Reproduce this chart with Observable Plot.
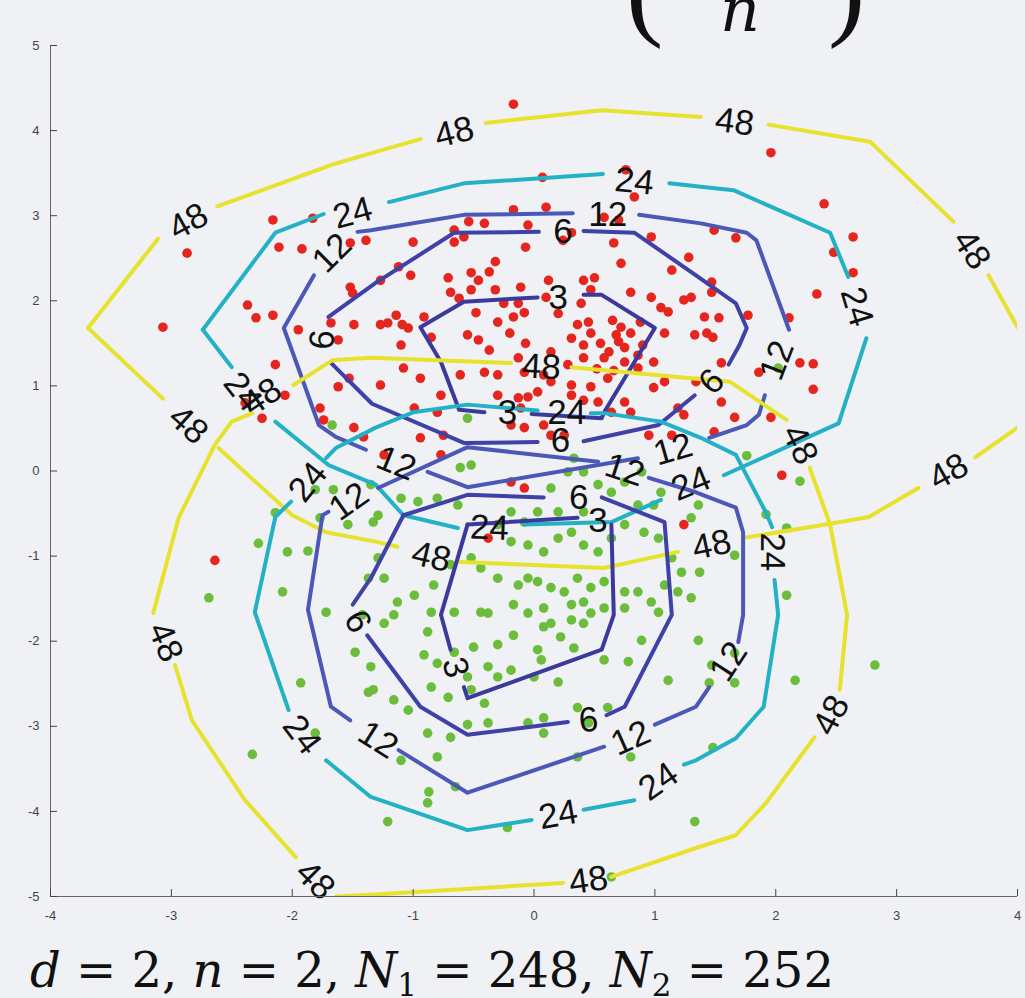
<!DOCTYPE html>
<html><head><meta charset="utf-8">
<script src="https://cdn.jsdelivr.net/npm/d3@7"></script>
<script src="https://cdn.jsdelivr.net/npm/@observablehq/plot@0.6"></script>
<style>
html,body{margin:0;padding:0;background:#eff1f5;}
#wrap{position:relative;width:1025px;height:998px;overflow:hidden;background:#eff1f5;}
#plot{position:absolute;left:0;top:0;}
#title{position:absolute;left:0;top:0;}
#caption{position:absolute;left:0;top:935px;}
</style></head>
<body>
<div id="wrap">
<div id="plot"></div>
<svg id="title" width="1025" height="60">
  <text x="626" y="25" font-family="Liberation Serif" font-size="112" fill="#111">(</text>
  <text x="720" y="31" font-family="DejaVu Serif" font-style="italic" font-size="62" fill="#111">n</text>
  <text x="828" y="25" font-family="Liberation Serif" font-size="112" fill="#111">)</text>
</svg>
<svg id="caption" width="1025" height="63">
  <text x="30" y="52" font-family="DejaVu Serif" font-size="48" fill="#111"><tspan font-style="italic">d</tspan> = 2, <tspan font-style="italic">n</tspan> = 2, <tspan font-style="italic">N</tspan><tspan font-size="31" dy="9">1</tspan><tspan dy="-9"> = 248, </tspan><tspan font-style="italic">N</tspan><tspan font-size="31" dy="9">2</tspan><tspan dy="-9"> = 252</tspan></text>
</svg>
</div>
<script>
// ---- data ----
const xTicks = [-4,-3,-2,-1,0,1,2,3,4];
const yTicks = [-5,-4,-3,-2,-1,0,1,2,3,4,5];
const levels = [3,6,12,24,48];
const levelColors = ["#3b3a9c","#3f41a6","#4b58b8","#24b1c6","#e7e22d"];

const redPoints = [
[-2.16,2.95],[-1.83,2.97],[-2.87,2.56],[-2.11,2.63],[-1.92,2.61],[-1.52,2.68],[-1.39,2.71],[-2.37,1.95],[-2.30,1.80],[-2.16,1.83],[-1.52,2.16],[-1.50,2.09],[-1.68,1.74],[-1.49,1.72],[-3.07,1.69],[-1.95,1.66],
[-0.17,4.31],[0.07,3.45],[-0.17,3.07],[0.10,3.10],[-0.54,2.93],[-0.41,2.91],[-0.05,2.89],[-0.07,2.63],[-0.66,2.83],[-0.66,2.69],[-0.58,2.75],[-1.00,2.69],[0.24,2.71],[0.31,2.80],[0.58,2.98],[0.70,2.95],[0.83,3.22],[0.76,3.54],[0.97,2.75],[0.66,2.68],[1.28,2.51],[0.72,2.44],[1.14,2.36],[-0.32,2.46],[-0.37,2.34],[-0.52,2.33],[-0.71,2.27],[-0.46,2.24],[-0.69,2.10],[-0.62,2.03],[-0.52,2.13],[-0.32,2.13],[-0.11,2.16],[0.12,2.24],[0.41,2.24],[0.50,2.27],[0.47,2.13],[0.39,1.97],[0.10,2.04],[-0.25,1.97],[-0.13,1.97],[-0.48,1.86],[-0.17,1.81],[-0.08,1.86],[-1.14,1.83],[-1.09,1.72],[-0.91,1.81],[-1.12,2.40],[-1.02,2.30],[-1.27,2.24],[-1.21,1.74],[0.80,2.10],[0.97,2.04],[1.24,2.01],[1.05,1.92],[1.11,1.87],[1.30,2.04],[0.36,1.72],[0.65,1.77],[0.72,1.69],
[1.96,3.74],[2.40,3.14],[2.64,2.75],[2.48,2.57],[2.64,2.33],[2.34,2.08],[1.49,2.83],[1.67,2.74],[1.47,2.22],[1.47,2.10],[1.41,1.81],[1.53,1.80],[1.77,1.83],[2.11,1.80],
[-2.14,1.25],[-1.62,1.54],[-1.53,1.09],[-1.62,0.99],[-2.06,0.89],[-2.39,0.80],[-2.25,0.62],[-1.77,0.74],[-1.74,0.60],[-1.49,0.51],[-1.41,0.40],[-2.64,-1.05],
[-1.27,1.72],[-1.04,1.68],[-0.85,1.57],[-1.10,1.48],[-0.46,1.54],[-0.37,1.42],[-0.07,1.50],[0.14,1.40],[0.31,1.56],[0.41,1.48],[0.47,1.62],[0.68,1.60],[0.75,1.45],[0.86,1.36],[1.08,1.62],[1.33,1.60],[0.28,1.25],[0.41,1.33],[0.58,1.33],[0.75,1.28],[0.86,1.21],[0.99,1.28],[0.99,0.98],[0.61,1.09],[0.47,0.99],[0.31,1.01],[-0.13,1.33],[-0.08,1.16],[0.08,1.13],[0.14,1.05],[0.03,0.93],[-0.05,0.87],[-0.30,0.89],[-0.13,0.86],[-0.11,0.74],[-0.19,0.54],[-0.08,0.51],[0.08,0.54],[0.14,0.42],[0.25,0.42],[0.31,0.89],[0.41,0.83],[0.53,0.81],[0.75,0.81],[0.64,0.69],[0.80,0.69],[0.95,0.42],[1.14,0.42],[1.19,0.74],[1.24,0.66],[-1.27,1.01],[-1.08,1.21],[-0.94,1.09],[-0.77,0.89],[-0.61,1.13],[-0.41,1.16],[-0.30,1.13],[-1.24,0.19],[-0.99,0.74],[-0.80,0.69],[-0.75,0.42],[-0.94,0.39],[-0.77,0.19],[-0.38,-0.79],[-0.19,-0.13],[-0.08,-0.20],[1.24,-0.63],[1.08,1.05],
[1.43,1.62],[1.48,1.57],[1.55,1.27],[1.86,1.16],[2.20,1.27],[2.31,1.26],[2.31,0.96],[1.55,0.81],[1.66,0.63],[1.96,0.63],[1.49,0.46],[1.34,1.05],[2.05,-0.05],
[0.55,1.50],[0.62,1.40],[0.70,1.52],[0.80,1.62],[0.90,1.48],[0.52,1.20],[0.66,1.18],[0.45,1.75],[0.88,1.75],[-0.20,1.62],[-0.30,1.75],[-0.55,1.60],[0.20,1.85]
];

const greenPoints = [
[-1.67,0.54],[-1.81,-0.22],[-1.66,-0.22],[-1.35,-0.16],[-1.54,-0.63],[-1.33,-0.60],[-1.77,-0.55],[-2.14,-0.49],[-2.28,-0.85],[-2.04,-0.95],[-1.87,-0.94],[-2.69,-1.49],[-2.08,-1.42],[-1.72,-1.66],[-1.42,-1.69],[-1.37,-1.26],
[-0.55,0.62],[-0.61,0.04],[-0.52,0.07],[-1.29,-1.02],[-1.24,-1.26],[-1.13,-1.54],[-0.99,-1.46],[-0.83,-1.34],[-0.69,-1.10],[-0.52,-1.02],[-0.19,-0.83],[-0.05,-0.87],[0.08,-0.95],[0.20,-0.79],[0.31,-0.72],[0.41,-0.87],[0.53,-0.95],[0.64,-0.79],[0.75,-0.63],[0.86,-0.40],[0.91,-0.72],[1.03,-0.79],[1.14,-1.02],[1.22,-1.19],[1.30,-0.55],[1.36,-0.40],[0.41,-0.48],[0.20,-0.48],[0.03,-0.48],[-0.19,-0.48],[-0.30,-0.63],[-0.44,-1.14],[-0.30,-1.26],[-0.13,-1.34],[-0.05,-1.26],[0.03,-1.30],[0.14,-1.37],[0.25,-1.42],[0.36,-1.26],[0.47,-1.37],[0.58,-1.30],[0.75,-1.42],[0.86,-1.42],[0.97,-1.54],[1.08,-1.34],[1.19,-1.42],[1.30,-1.49],[-0.80,-0.32],[-0.96,-0.36],[-0.63,-0.40],[-0.85,-1.66],[-0.66,-1.66],[-0.44,-1.66],[-0.17,-1.57],[0.08,-1.61],[0.31,-1.57],[0.41,-1.54],[0.58,-1.61],[0.75,-1.61],[1.03,-1.66],[0.53,-0.16],[0.64,-0.25],[0.75,-0.13],[0.99,-0.40],[1.05,-0.25],[0.89,-0.01],[0.41,-0.01],[0.28,-0.01],[0.33,0.15],[0.14,-0.20],[-0.08,-0.60],[-1.29,-0.52],[-1.10,-0.32],
[2.02,1.21],[1.76,0.18],[2.20,-0.12],[1.92,-0.51],[2.09,-0.67],[1.66,-0.99],[1.37,-1.19],[2.09,-1.46],
[-1.48,-2.13],[-1.35,-2.30],[-1.37,-2.60],[-1.93,-2.49],[-1.81,-3.08],[-2.33,-3.33],
[-1.24,-1.79],[-1.16,-1.69],[-0.88,-1.89],[-0.66,-2.13],[-0.91,-2.16],[-0.80,-2.26],[-0.50,-2.07],[-0.30,-2.04],[-0.17,-1.93],[0.08,-1.83],[0.14,-1.79],[0.31,-1.75],[0.41,-1.79],[0.47,-1.67],[-0.38,-1.67],[-0.05,-1.67],[-0.55,-2.42],[-0.52,-2.57],[-0.38,-2.30],[-0.30,-2.42],[-0.19,-2.34],[0.00,-2.42],[0.03,-2.10],[0.06,-2.22],[0.20,-2.48],[0.22,-1.95],[0.33,-2.08],[0.58,-2.22],[0.78,-2.24],[0.89,-1.99],[1.36,-1.99],[-0.85,-2.54],[-0.71,-2.66],[-0.41,-2.73],[-1.16,-2.69],[-1.04,-2.81],[-0.88,-3.08],[-0.80,-3.36],[-1.10,-3.40],[-1.33,-2.57],[-0.69,-3.13],[-0.55,-2.98],[-0.38,-2.96],[-0.05,-2.96],[0.08,-2.90],[0.08,-3.08],[0.36,-2.78],[0.61,-2.78],[0.45,-2.96],[0.36,-3.36],[0.80,-3.36],[1.11,-2.46],[-0.65,-3.71],[-0.87,-3.77],[-0.88,-3.90],[-1.21,-4.12],[-0.22,-4.19],[1.33,-4.12],[0.64,-4.77],
[1.47,-2.28],[1.66,-2.14],[1.45,-2.49],[1.66,-2.49],[2.16,-2.46],[2.82,-2.28],[1.48,-3.25]
];

// contour polylines (segments are broken where labels sit)
const red48 = [
[[-3.69,1.68],[-3.11,2.73]],
[[-2.62,3.11],[-1.67,3.60],[-1.31,3.75],[-0.94,3.90]],
[[-0.40,4.09],[0.56,4.24],[1.38,4.16]],
[[1.94,4.07],[2.78,3.87],[3.47,2.93]],
[[3.76,2.30],[4.0,1.69]],
[[4.0,0.51],[3.65,0.16]],
[[3.18,-0.20],[2.77,-0.54],[2.45,-0.62],[1.76,-0.78]],
[[1.19,-0.95],[0.58,-1.14],[-0.61,-1.07]],
[[-1.13,-0.89],[-1.31,-0.83],[-1.72,-0.72],[-2.00,-0.52],[-2.61,0.27]],
[[-3.07,0.85],[-3.69,1.68]]
];
const red24 = [
[[-2.74,1.66],[-2.14,2.80],[-1.74,3.02]],
[[-1.20,3.16],[-0.58,3.38],[0.57,3.49]],
[[1.12,3.38],[1.38,3.34],[1.65,3.30],[2.45,2.80],[2.60,2.28]],
[[2.75,1.56],[2.52,0.56],[1.57,-0.05]],
[[1.05,-0.34],[0.64,-0.60],[-0.08,-0.63]],
[[-0.63,-0.67],[-1.08,-0.52],[-1.31,-0.16],[-1.70,0.07],[-2.14,0.58]],
[[-2.50,1.22],[-2.74,1.66]]
];
const red12 = [
[[-1.46,2.81],[-1.35,2.83],[-0.58,3.01],[0.32,3.03]],
[[0.87,3.01],[1.38,2.91],[1.76,2.80],[1.84,2.71],[2.11,1.66]],
[[1.91,0.89],[1.86,0.66],[1.76,0.54],[1.45,0.39]],
[[0.86,0.15],[-0.55,-0.19],[-0.88,-0.01]],
[[-1.39,0.25],[-1.64,0.40],[-1.78,0.54],[-1.95,1.21],[-2.07,1.68],[-1.82,2.30]]
];
const red6 = [
[[0.04,2.81],[-0.66,2.80],[-1.31,2.21],[-1.70,1.81]],
[[-1.68,1.27],[-1.34,0.79],[-0.58,0.33],[0.03,0.34]],
[[0.41,0.35],[1.03,0.54],[1.33,0.89]],
[[1.61,1.25],[1.70,1.48],[1.76,1.68],[1.67,1.97],[1.34,2.30],[0.83,2.80],[0.41,2.82]]
];
const red3 = [
[[-0.02,0.67],[0.56,0.62],[0.58,0.69],[1.00,1.68],[0.56,2.07],[0.41,2.07]],
[[0.03,2.04],[-0.58,1.99],[-0.94,1.69],[-0.77,1.28],[-0.62,0.72],[-0.41,0.69]]
];
const green48 = [
[[0.31,1.22],[1.30,1.09],[1.62,1.05],[2.09,0.60]],
[[2.28,0.04],[2.45,-0.63],[2.59,-1.69],[2.53,-2.57]],
[[2.32,-3.13],[1.92,-3.90],[1.67,-4.28],[1.34,-4.43],[0.64,-4.77]],
[[0.24,-4.84],[-1.35,-4.98],[-1.64,-5.0]],
[[-1.97,-4.54],[-2.39,-3.87],[-2.83,-2.93],[-2.97,-2.28]],
[[-3.15,-1.67],[-2.94,-0.55],[-2.64,0.31],[-2.50,0.58],[-2.33,0.68]],
[[-1.99,1.01],[-1.67,1.30],[-1.35,1.33],[-0.19,1.27]]
];
const green24 = [
[[0.47,0.68],[0.58,0.68],[1.05,0.58],[1.38,0.39],[1.67,0.19],[1.92,-0.49],[1.97,-0.66]],
[[1.99,-1.28],[2.02,-1.69],[1.90,-2.77],[1.67,-3.14],[1.34,-3.40],[1.24,-3.45]],
[[0.83,-3.87],[0.41,-3.98]],
[[-0.02,-4.10],[-0.55,-4.22],[-1.35,-3.83],[-1.72,-3.40]],
[[-2.03,-2.81],[-2.31,-1.66],[-2.14,-0.54],[-2.01,-0.36]],
[[-1.72,0.15],[-1.64,0.27],[-1.31,0.51],[-1.00,0.69],[-0.55,0.78],[0.03,0.71]]
];
const green12 = [
[[-1.29,-0.20],[-0.55,0.28],[0.53,0.11]],
[[0.95,-0.08],[1.34,-0.25],[1.67,-0.43],[1.73,-0.72],[1.73,-1.69],[1.69,-2.01]],
[[1.45,-2.54],[1.34,-2.77],[1.00,-2.98]],
[[0.58,-3.24],[-0.55,-3.78],[-1.12,-3.28]],
[[-1.52,-2.93],[-1.68,-2.77],[-1.87,-1.63],[-1.75,-0.52],[-1.70,-0.48]]
];
const green6 = [
[[-1.08,-0.52],[-0.55,-0.28],[0.08,-0.31]],
[[0.56,-0.31],[1.08,-0.60],[1.14,-1.69],[0.75,-2.77],[0.60,-2.87]],
[[0.28,-2.95],[-0.55,-3.10],[-0.94,-2.77],[-1.38,-1.93]],
[[-1.50,-1.57],[-1.35,-1.26],[-1.08,-0.52]]
];
const green3 = [
[[-0.55,-0.63],[0.36,-0.55]],
[[0.64,-0.63],[0.66,-1.69],[0.56,-2.10],[-0.55,-2.67],[-0.58,-2.54]],
[[-0.69,-2.10],[-0.77,-1.69],[-0.55,-0.63]]
];

// contour labels: level, x, y, angle
const contourLabels = [
[48,-2.86,2.93,-29],[48,-0.66,3.98,-14],[48,1.66,4.10,7],[48,3.62,2.60,57],[48,3.43,-0.01,-29],[48,1.47,-0.87,-12],[48,-0.85,-1.01,13],[48,-2.86,0.54,42],
[24,-1.50,3.03,-15],[24,0.83,3.40,6],[24,2.67,1.93,73],[24,1.30,-0.15,-22],[24,-0.37,-0.67,2],[24,-2.41,0.93,52],
[12,-1.67,2.56,-45],[12,0.61,3.01,0],[12,2.01,1.30,-69],[12,1.15,0.25,-16],[12,-1.14,0.09,22],
[6,-1.75,1.54,-85],[6,0.22,0.36,0],[6,1.47,1.05,-45],[6,0.24,2.81,0],
[3,0.20,2.04,0],[3,-0.22,0.68,0],
[48,0.06,1.22,3],[48,2.20,0.31,64],[48,2.46,-2.87,-62],[48,0.45,-4.81,-8],[48,-1.81,-4.81,45],[48,-3.05,-2.01,67],[48,-2.25,0.87,-34],
[24,0.27,0.68,0],[24,1.97,-0.95,90],[24,1.03,-3.65,-35],[24,0.20,-4.04,-10],[24,-1.92,-3.10,53],[24,-1.87,-0.13,-51],
[12,0.75,0.01,18],[12,1.61,-2.24,-57],[12,0.80,-3.14,-24],[12,-1.29,-3.16,32],[12,-1.53,-0.36,-35],
[6,0.37,-0.31,0],[6,0.45,-2.93,-5],[6,-1.46,-1.77,60],
[3,0.53,-0.58,0],[3,-0.65,-2.31,75]
];

// ---- build tables ----
const contours = [
  {cls:"red", level:48, segs:red48},{cls:"red", level:24, segs:red24},{cls:"red", level:12, segs:red12},{cls:"red", level:6, segs:red6},{cls:"red", level:3, segs:red3},
  {cls:"green", level:48, segs:green48},{cls:"green", level:24, segs:green24},{cls:"green", level:12, segs:green12},{cls:"green", level:6, segs:green6},{cls:"green", level:3, segs:green3}
];
const lineRows = contours.flatMap(c => c.segs.flatMap((s, i) => s.map(p => ({level: c.level, id: `${c.cls}-${c.level}-${i}`, x: p[0], y: p[1]}))));
const labelRows = contourLabels.map(([level, x, y, angle]) => ({level, x, y, angle}));

const chart = Plot.plot({
  width: 1025,
  height: 935,
  marginTop: 45,
  marginBottom: 39,
  marginLeft: 50,
  marginRight: 8,
  x: {domain: [-4, 4], label: null},
  y: {domain: [-5, 5], label: null},
  color: {type: "ordinal", domain: levels, range: levelColors},
  style: {background: "transparent", fontFamily: "Liberation Sans, Arial, sans-serif", overflow: "visible"},
  marks: [
    Plot.dot(redPoints, {x: d => d[0], y: d => d[1], r: 4.8, fill: "#e5261f"}),
    Plot.dot(greenPoints, {x: d => d[0], y: d => d[1], r: 4.8, fill: "#6cbd3c"}),
    Plot.line(lineRows, {x: "x", y: "y", z: "id", stroke: "level", strokeWidth: 4, strokeLinejoin: "round", clip: true}),
    Plot.text(labelRows, {x: "x", y: "y", text: d => String(d.level), rotate: "angle", fontSize: 35, fill: "#111", fontFamily: "Liberation Sans, Arial, sans-serif"}),
    Plot.ruleX([-4], {stroke: "#666"}),
    Plot.ruleY([-5], {stroke: "#666"}),
    Plot.axisX({ticks: xTicks, tickSize: -7, tickPadding: 21, tickFormat: d => String(d), fontSize: 13, color: "#444", label: null}),
    Plot.axisY({ticks: yTicks, tickSize: -7, tickPadding: 18, tickFormat: d => String(d), fontSize: 13, color: "#444", label: null})
  ]
});
document.getElementById("plot").appendChild(chart);
</script>
</body></html>
